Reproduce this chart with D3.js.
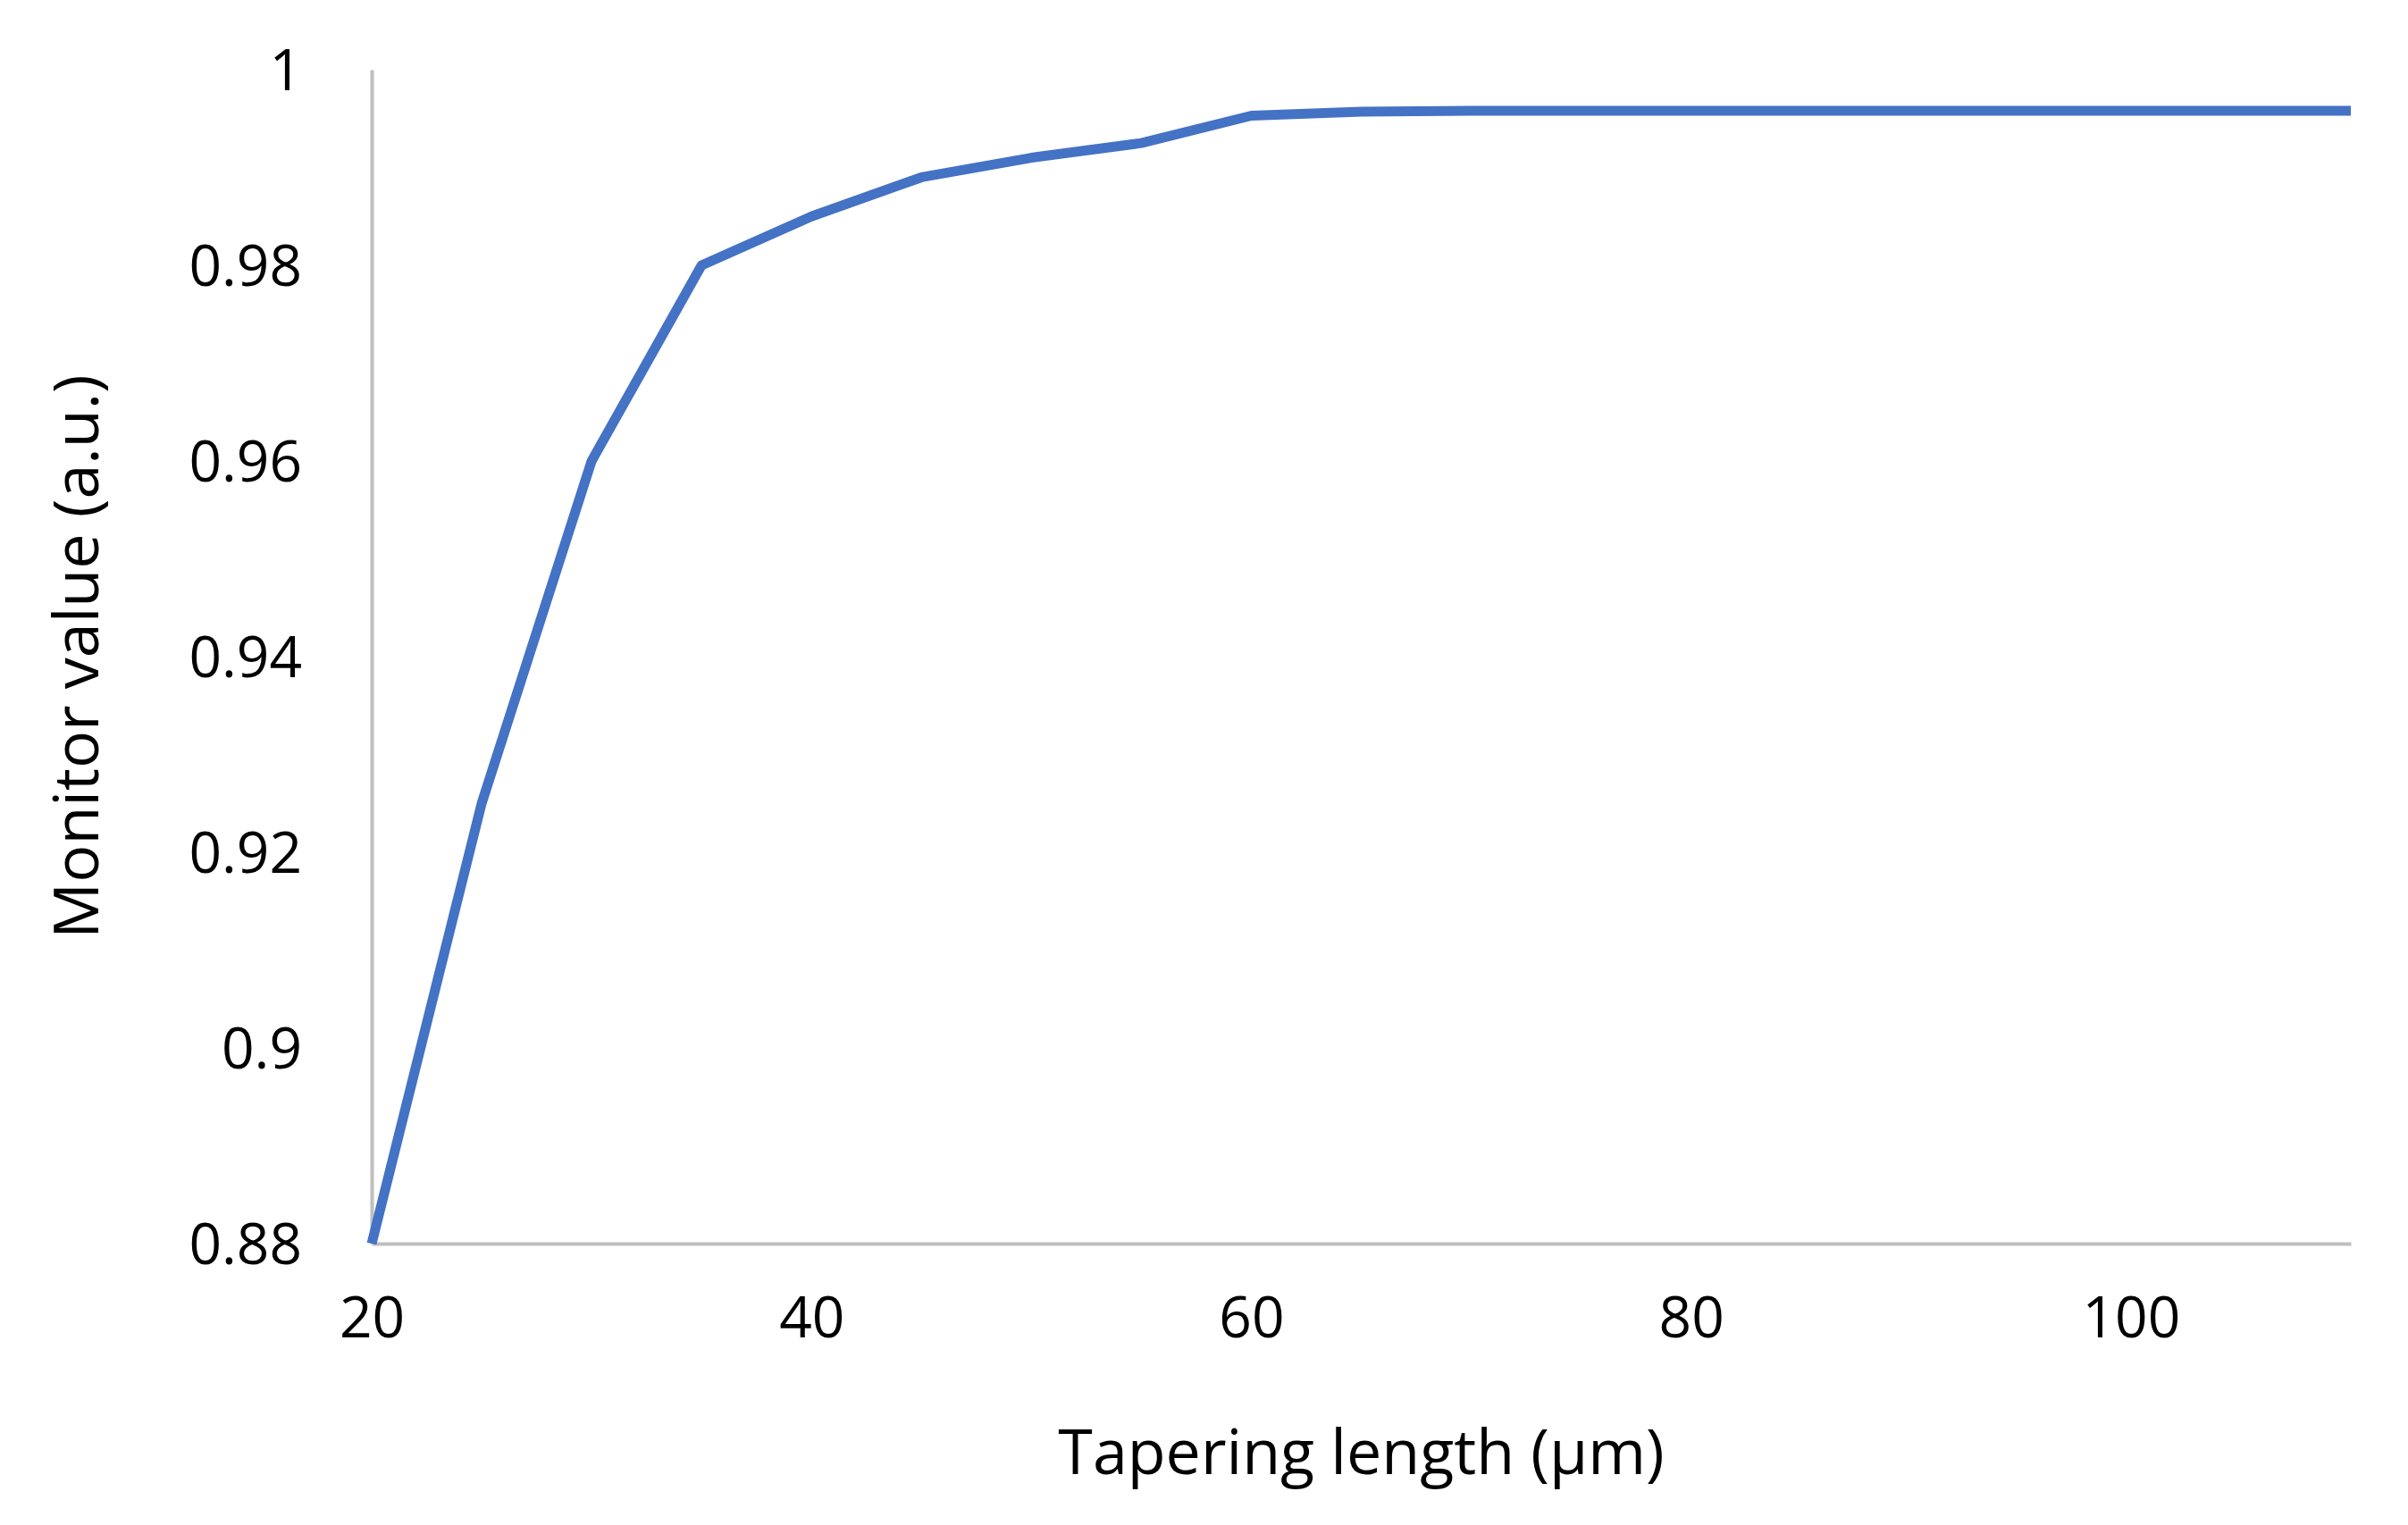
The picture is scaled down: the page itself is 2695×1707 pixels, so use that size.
<!DOCTYPE html>
<html>
<head>
<meta charset="utf-8">
<script src="https://cdn.jsdelivr.net/npm/d3@7"></script>
<style>
  body { margin: 0; background: #fff; }
  text { font-family: "Open Sans", Lato, sans-serif; fill: #000; }
</style>
</head>
<body>
<div id="chart"></div>
<script>
const lengths = [20, 25, 30, 35, 40, 45, 50, 55, 60, 65, 70, 75, 80, 85, 90, 95, 100, 105, 110];
const monitor = [0.88, 0.925, 0.96, 0.98, 0.985, 0.989, 0.991, 0.9925, 0.9953, 0.9957, 0.9958,
  0.9958, 0.9958, 0.9958, 0.9958, 0.9958, 0.9958, 0.9958, 0.9958];
const xTicks = [20, 40, 60, 80, 100];
const yTicks = [0.88, 0.9, 0.92, 0.94, 0.96, 0.98, 1];

const width = 2695, height = 1707;
const margin = { top: 78, right: 64, bottom: 315, left: 416 };
const innerWidth = width - margin.left - margin.right;
const innerHeight = height - margin.top - margin.bottom;

const svg = d3.select("#chart").append("svg")
  .attr("width", width).attr("height", height)
  .append("g")
  .attr("transform", `translate(${margin.left},${margin.top})`);

const xScale = d3.scaleLinear().domain([20, 110]).range([0, innerWidth]);
const yScale = d3.scaleLinear().domain([0.88, 1]).range([innerHeight, 0]);

const xAxis = svg.append("g")
  .attr("transform", `translate(0,${innerHeight})`)
  .call(d3.axisBottom(xScale).tickValues(xTicks).tickSize(0).tickPadding(60).tickFormat(d3.format("d")));
const yAxis = svg.append("g")
  .call(d3.axisLeft(yScale).tickValues(yTicks).tickSize(0).tickPadding(78).tickFormat(d3.format("~g")));

[xAxis, yAxis].forEach(a => {
  a.select(".domain").attr("stroke", "#bfbfbf").attr("stroke-width", 4);
  a.selectAll("text").style("font-size", "64px").style("font-family", "'Open Sans', Lato, sans-serif");
});
yAxis.selectAll("text").attr("dy", "0.35em");

svg.append("path")
  .datum(lengths.map((d, i) => ({ x: d, y: monitor[i] })))
  .attr("fill", "none")
  .attr("stroke", "#4472C4")
  .attr("stroke-width", 11)
  .attr("stroke-linejoin", "round")
  .attr("d", d3.line().x(d => xScale(d.x)).y(d => yScale(d.y)));

svg.append("text")
  .attr("x", innerWidth / 2)
  .attr("y", innerHeight + 258)
  .attr("text-anchor", "middle")
  .style("font-size", "70px")
  .text("Tapering length (µm)");

svg.append("text")
  .attr("transform", `translate(${-margin.left + 110},${innerHeight / 2}) rotate(-90)`)
  .attr("text-anchor", "middle")
  .style("font-size", "70px")
  .text("Monitor value (a.u.)");
</script>
</body>
</html>
